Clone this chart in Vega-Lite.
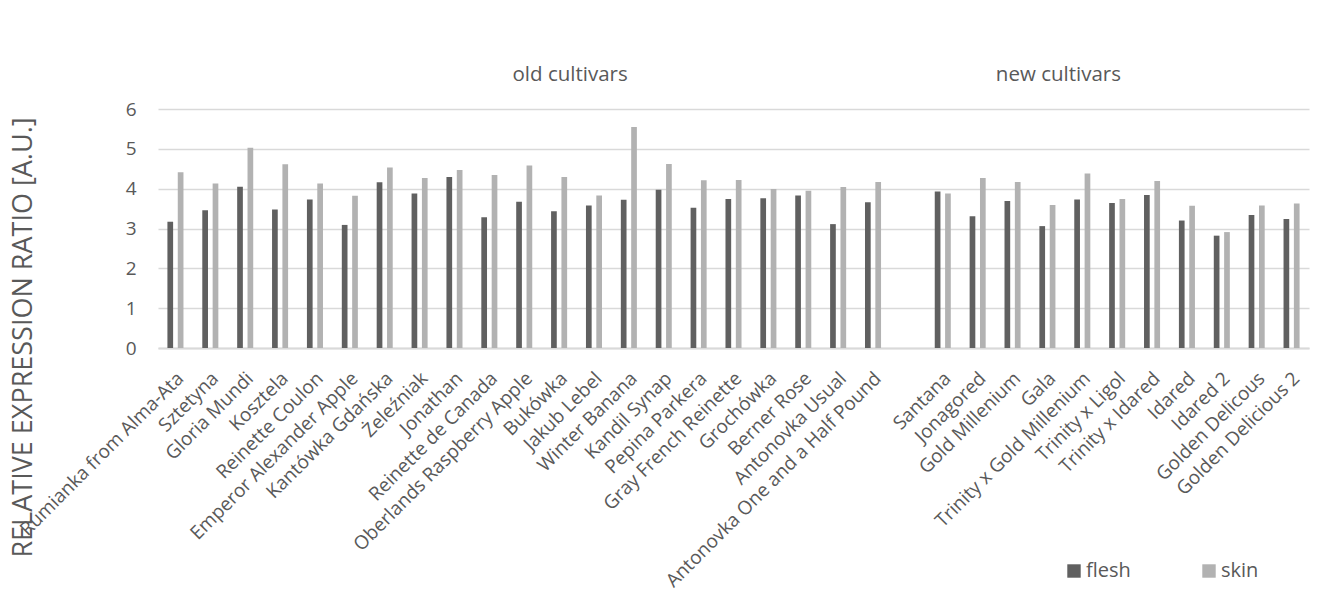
{
  "$schema": "https://vega.github.io/schema/vega-lite/v6.json",
  "width": 1151,
  "height": 239,
  "autosize": {"type": "none"},
  "padding": {"left": 158, "top": 109, "right": 21, "bottom": 247},
  "background": "white",
  "config": {
    "font": "Open Sans",
    "view": {"stroke": null},
    "axis": {"labelColor": "#595959", "titleColor": "#595959", "labelFont": "Open Sans", "titleFont": "Open Sans"},
    "legend": {"labelColor": "#595959", "labelFont": "Open Sans"}
  },
  "datasets": {
    "bars": [
      {"cultivar": "Rumianka from Alma-Ata", "tissue": "flesh", "ratio": 3.17},
      {"cultivar": "Rumianka from Alma-Ata", "tissue": "skin", "ratio": 4.41},
      {"cultivar": "Sztetyna", "tissue": "flesh", "ratio": 3.46},
      {"cultivar": "Sztetyna", "tissue": "skin", "ratio": 4.13},
      {"cultivar": "Gloria Mundi", "tissue": "flesh", "ratio": 4.05},
      {"cultivar": "Gloria Mundi", "tissue": "skin", "ratio": 5.03},
      {"cultivar": "Kosztela", "tissue": "flesh", "ratio": 3.48},
      {"cultivar": "Kosztela", "tissue": "skin", "ratio": 4.61},
      {"cultivar": "Reinette Coulon", "tissue": "flesh", "ratio": 3.73},
      {"cultivar": "Reinette Coulon", "tissue": "skin", "ratio": 4.13},
      {"cultivar": "Emperor Alexander Apple", "tissue": "flesh", "ratio": 3.09},
      {"cultivar": "Emperor Alexander Apple", "tissue": "skin", "ratio": 3.82},
      {"cultivar": "Kantówka Gdańska", "tissue": "flesh", "ratio": 4.16},
      {"cultivar": "Kantówka Gdańska", "tissue": "skin", "ratio": 4.53},
      {"cultivar": "Żeleźniak", "tissue": "flesh", "ratio": 3.88},
      {"cultivar": "Żeleźniak", "tissue": "skin", "ratio": 4.27},
      {"cultivar": "Jonathan", "tissue": "flesh", "ratio": 4.29},
      {"cultivar": "Jonathan", "tissue": "skin", "ratio": 4.47},
      {"cultivar": "Reinette de Canada", "tissue": "flesh", "ratio": 3.28},
      {"cultivar": "Reinette de Canada", "tissue": "skin", "ratio": 4.34},
      {"cultivar": "Oberlands Raspberry Apple", "tissue": "flesh", "ratio": 3.67},
      {"cultivar": "Oberlands Raspberry Apple", "tissue": "skin", "ratio": 4.58},
      {"cultivar": "Bukówka", "tissue": "flesh", "ratio": 3.43},
      {"cultivar": "Bukówka", "tissue": "skin", "ratio": 4.29},
      {"cultivar": "Jakub Lebel", "tissue": "flesh", "ratio": 3.58},
      {"cultivar": "Jakub Lebel", "tissue": "skin", "ratio": 3.83},
      {"cultivar": "Winter Banana", "tissue": "flesh", "ratio": 3.72},
      {"cultivar": "Winter Banana", "tissue": "skin", "ratio": 5.55},
      {"cultivar": "Kandil Synap", "tissue": "flesh", "ratio": 3.97},
      {"cultivar": "Kandil Synap", "tissue": "skin", "ratio": 4.62},
      {"cultivar": "Pepina Parkera", "tissue": "flesh", "ratio": 3.52},
      {"cultivar": "Pepina Parkera", "tissue": "skin", "ratio": 4.21},
      {"cultivar": "Gray French Reinette", "tissue": "flesh", "ratio": 3.74},
      {"cultivar": "Gray French Reinette", "tissue": "skin", "ratio": 4.22},
      {"cultivar": "Grochówka", "tissue": "flesh", "ratio": 3.76},
      {"cultivar": "Grochówka", "tissue": "skin", "ratio": 3.99},
      {"cultivar": "Berner Rose", "tissue": "flesh", "ratio": 3.83},
      {"cultivar": "Berner Rose", "tissue": "skin", "ratio": 3.95},
      {"cultivar": "Antonovka Usual", "tissue": "flesh", "ratio": 3.11},
      {"cultivar": "Antonovka Usual", "tissue": "skin", "ratio": 4.04},
      {"cultivar": "Antonovka One and a Half Pound", "tissue": "flesh", "ratio": 3.66},
      {"cultivar": "Antonovka One and a Half Pound", "tissue": "skin", "ratio": 4.17},
      {"cultivar": "Santana", "tissue": "flesh", "ratio": 3.93},
      {"cultivar": "Santana", "tissue": "skin", "ratio": 3.88},
      {"cultivar": "Jonagored", "tissue": "flesh", "ratio": 3.31},
      {"cultivar": "Jonagored", "tissue": "skin", "ratio": 4.27},
      {"cultivar": "Gold Millenium", "tissue": "flesh", "ratio": 3.69},
      {"cultivar": "Gold Millenium", "tissue": "skin", "ratio": 4.17},
      {"cultivar": "Gala", "tissue": "flesh", "ratio": 3.06},
      {"cultivar": "Gala", "tissue": "skin", "ratio": 3.59},
      {"cultivar": "Trinity x Gold Millenium", "tissue": "flesh", "ratio": 3.73},
      {"cultivar": "Trinity x Gold Millenium", "tissue": "skin", "ratio": 4.38},
      {"cultivar": "Trinity x Ligol", "tissue": "flesh", "ratio": 3.64},
      {"cultivar": "Trinity x Ligol", "tissue": "skin", "ratio": 3.74},
      {"cultivar": "Trinity x Idared", "tissue": "flesh", "ratio": 3.84},
      {"cultivar": "Trinity x Idared", "tissue": "skin", "ratio": 4.19},
      {"cultivar": "Idared", "tissue": "flesh", "ratio": 3.20},
      {"cultivar": "Idared", "tissue": "skin", "ratio": 3.57},
      {"cultivar": "Idared 2", "tissue": "flesh", "ratio": 2.82},
      {"cultivar": "Idared 2", "tissue": "skin", "ratio": 2.91},
      {"cultivar": "Golden Delicous", "tissue": "flesh", "ratio": 3.34},
      {"cultivar": "Golden Delicous", "tissue": "skin", "ratio": 3.58},
      {"cultivar": "Golden Delicious 2", "tissue": "flesh", "ratio": 3.24},
      {"cultivar": "Golden Delicious 2", "tissue": "skin", "ratio": 3.63}
    ],
    "groups": [
      {"cultivar": "Bukówka", "label": "old cultivars"},
      {"cultivar": "Gala", "label": "new cultivars"}
    ]
  },
  "encoding": {
    "x": {
      "field": "cultivar",
      "type": "nominal",
      "sort": null,
      "scale": {
        "domain": ["Rumianka from Alma-Ata", "Sztetyna", "Gloria Mundi", "Kosztela", "Reinette Coulon", "Emperor Alexander Apple", "Kantówka Gdańska", "Żeleźniak", "Jonathan", "Reinette de Canada", "Oberlands Raspberry Apple", "Bukówka", "Jakub Lebel", "Winter Banana", "Kandil Synap", "Pepina Parkera", "Gray French Reinette", "Grochówka", "Berner Rose", "Antonovka Usual", "Antonovka One and a Half Pound", " ", "Santana", "Jonagored", "Gold Millenium", "Gala", "Trinity x Gold Millenium", "Trinity x Ligol", "Trinity x Idared", "Idared", "Idared 2", "Golden Delicous", "Golden Delicious 2"],
        "paddingInner": 0.54,
        "paddingOuter": 0.27
      },
      "axis": {
        "title": null,
        "labelAngle": -45,
        "labelAlign": "right",
        "labelBaseline": "middle",
        "labelFontSize": 19,
        "labelPadding": 27,
        "labelOffset": 5,
        "labelOverlap": false,
        "labelLimit": 0,
        "ticks": false,
        "domainColor": "#d9d9d9",
        "domainWidth": 2,
        "grid": false
      }
    }
  },
  "layer": [
    {
      "data": {"name": "bars"},
      "mark": {"type": "bar"},
      "encoding": {
        "xOffset": {"field": "tissue", "type": "nominal", "scale": {"paddingInner": 0.45, "paddingOuter": 0}},
        "y": {
          "field": "ratio",
          "type": "quantitative",
          "scale": {"domain": [0, 6], "nice": false},
          "axis": {
            "title": "RELATIVE EXPRESSION RATIO  [A.U.]",
            "titleFontSize": 27,
            "titleFontWeight": "normal",
            "titlePadding": 88,
            "titleY": 228,
            "values": [0, 1, 2, 3, 4, 5, 6],
            "labelOverlap": false,
            "labelFontSize": 19,
            "labelPadding": 22,
            "ticks": false,
            "domain": false,
            "gridColor": "#d9d9d9",
            "gridWidth": 1.5
          }
        },
        "color": {
          "field": "tissue",
          "type": "nominal",
          "scale": {"domain": ["flesh", "skin"], "range": ["#606060", "#b2b2b2"]},
          "legend": {
            "title": null,
            "orient": "none",
            "legendX": 906,
            "legendY": 452,
            "direction": "horizontal",
            "columns": 2,
            "columnPadding": 68,
            "symbolType": "square",
            "symbolSize": 180,
            "symbolStrokeWidth": 0,
            "labelFontSize": 20,
            "labelOffset": 2
          }
        }
      }
    },
    {
      "data": {"name": "groups"},
      "mark": {"type": "text", "fontSize": 20.5, "color": "#595959", "dx": 11, "baseline": "middle", "align": "center"},
      "encoding": {
        "y": {
          "datum": 6.86,
          "type": "quantitative",
          "scale": {"domain": [0, 6], "nice": false},
          "axis": {
            "title": "RELATIVE EXPRESSION RATIO  [A.U.]",
            "titleFontSize": 27,
            "titleFontWeight": "normal",
            "titlePadding": 88,
            "titleY": 228,
            "values": [0, 1, 2, 3, 4, 5, 6],
            "labelOverlap": false,
            "labelFontSize": 19,
            "labelPadding": 22,
            "ticks": false,
            "domain": false,
            "gridColor": "#d9d9d9",
            "gridWidth": 1.5
          }
        },
        "text": {"field": "label"}
      }
    }
  ]
}
